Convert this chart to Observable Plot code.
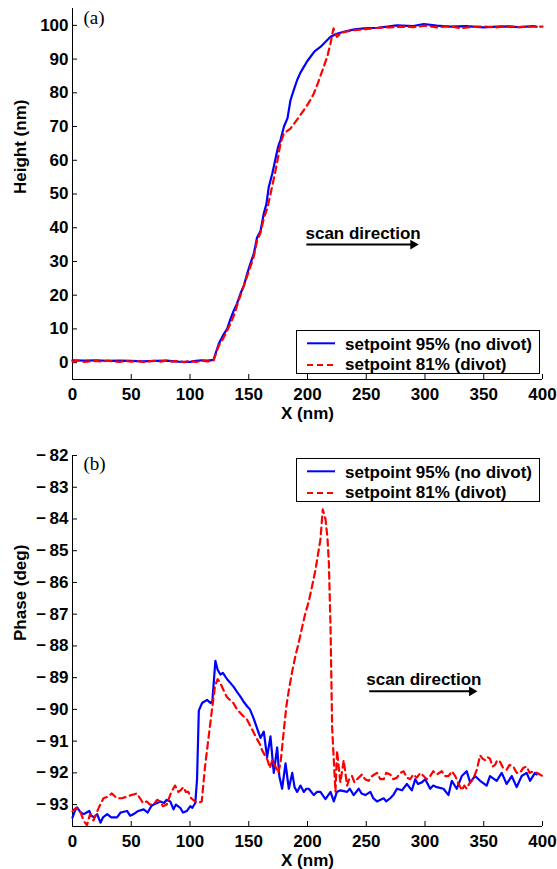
<!DOCTYPE html>
<html><head><meta charset="utf-8">
<script src="https://cdn.jsdelivr.net/npm/d3@7"></script>
<script src="https://cdn.jsdelivr.net/npm/@observablehq/plot@0.6"></script>
<style>
html,body{margin:0;padding:0;background:#fff;}
#wrap{position:relative;width:557px;height:869px;overflow:hidden;}
.panel{position:absolute;left:0;}
.panel svg{display:block;}
.legend{position:absolute;box-sizing:border-box;width:244px;height:44px;border:1px solid #000;background:#fff;
  font:bold 17px "Liberation Sans",Arial,sans-serif;color:#000;}
.legend svg{position:absolute;left:0;top:0;}
</style></head>
<body><div id="wrap">
<div id="top" class="panel" style="top:0"></div>
<div id="bot" class="panel" style="top:430px"></div>
</div>
<script>
// ---------- data ----------
const seriesNames = ["setpoint 95% (no divot)", "setpoint 81% (divot)"];
const seriesColors = ["#0000ff", "#ff0000"];

// (a) Height (nm) vs X (nm)
const heightNoDivot = [[0,0.7],[10,0.6],[20,0.7],[30,0.5],[40,0.6],[50,0.5],[60,0.4],[70,0.5],[80,0.6],[90,0.3],[100,0.2],[105,0.5],[110,0.7],[115,0.6],[120,0.8],
 [124.5,5.6],[128,8],[131.6,10],[134,12.5],[137.3,15.5],[140,17.5],[143,20.5],[146,23],[148.7,26.4],[151,29],[154.3,32.3],[157,37],[160,39],[162.8,44.2],[165,47],[167,52],[170,56],[172.5,60],[175,64],[177,66],[180,70],[183,72.5],[185.5,77.8],[188,80.5],[191.2,83.8],[194,86],[196.9,87.7],[200,89.5],[202.6,90.7],[206,92.3],[211,93.6],[215,95],[219.6,96.6],[225,97.5],[230.9,98.1],[240,98.8],[248,99.1],[260,99.3],[276,100],[290,99.8],[299,100.4],[310,99.9],[321,99.6],[335,99.8],[350,99.4],[365,99.7],[380,99.5],[392.6,99.8],[395,99.6]];
const heightDivot = [[0,0.3],[5,0.6],[10,0.2],[15,0.4],[20,0.5],[25,0.3],[30,0.6],[35,0.4],[40,0.2],[45,0.5],[50,0.3],[55,0.5],[60,0.2],[65,0.4],[70,0.5],[75,0.3],[80,0.6],[85,0.3],[90,0.5],[95,0.1],[100,0.6],[105,0.2],[110,0.5],[115,0.4],[120,0.6],
 [124.5,5],[128,7],[131.6,9.5],[135,12],[138,14.5],[141,18],[144,21],[148,25],[151,28],[154.3,31.5],[157,36],[160,38.5],[163,43],[166,46],[168.5,50],[171,54],[174,59],[177,65],[180,68],[185.5,69.4],[191,72],[196.9,74.9],[201,77],[205.4,79.8],[209,83],[213.8,87.7],[217,91],[219.6,94.7],[222.1,99.1],[223.5,98],[225,96.6],[228,97.5],[231,98],[240,98.6],[250,98.9],[260,99.3],[270,99.4],[280,99.6],[290,99.5],[300,99.9],[310,99.4],[320,99.8],[330,99.2],[340,99.5],[350,99.7],[360,99.4],[370,99.8],[380,99.5],[390,99.6],[400,99.6]];

// (b) Phase (deg) vs X (nm)
const phaseNoDivot = [[0,-93.41],[2,-93.2],[3.9,-93.09],[7,-93.25],[9.6,-93.3],[12,-93.25],[14.3,-93.2],[16,-93.35],[18.5,-93.4],[21,-93.3],[23.8,-93.57],[26,-93.4],[29.5,-93.3],[33,-93.4],[37.9,-93.4],[41,-93.25],[46.4,-93.2],[49,-93.35],[52,-93.3],[56,-93.2],[60.6,-93.15],[64,-93.25],[67,-93.05],[69,-93.0],[72,-92.95],[74.7,-92.9],[78,-92.95],[80,-92.85],[83.2,-92.9],[86,-93.15],[88,-93.0],[91.7,-93.1],[94,-93.25],[97.4,-93.2],[100.3,-93.05],[102,-93.1],[104.5,-92.95],[106,-92.2],[107.5,-90.04],[110.3,-89.8],[114.5,-89.7],[117.4,-89.8],[119,-89.75],[121.6,-88.47],[123.5,-88.75],[125.9,-88.9],[128,-88.85],[131.6,-89.05],[134,-89.15],[137.3,-89.3],[140,-89.45],[142.9,-89.6],[145.5,-89.75],[148.6,-89.9],[151,-90.0],[154.3,-90.3],[157.1,-90.6],[160,-90.9],[162.8,-90.7],[165.6,-91.5],[168.5,-90.85],[171.3,-92.0],[174.2,-91.2],[176,-92.1],[178.4,-92.5],[181.3,-91.7],[184.1,-92.5],[187,-92.0],[189,-92.45],[191.2,-92.6],[194,-92.4],[196.9,-92.6],[199,-92.5],[201.1,-92.5],[205.4,-92.7],[208,-92.6],[211,-92.6],[215.3,-92.83],[219.6,-92.6],[222.4,-92.9],[225,-92.6],[228,-92.55],[233.7,-92.6],[236,-92.5],[239.3,-92.7],[243.6,-92.5],[246,-92.65],[249.2,-92.7],[253.5,-92.6],[256,-92.8],[259.1,-92.9],[264.8,-92.8],[267,-92.9],[270.4,-92.8],[273,-92.7],[276.1,-92.5],[280.4,-92.55],[284.6,-92.35],[288.8,-92.55],[291.7,-92.2],[294,-92.35],[297.3,-92.3],[300.2,-92.2],[304.4,-92.5],[307,-92.4],[310.1,-92.45],[315.7,-92.5],[320,-92.7],[322.8,-92.25],[327,-92.5],[331.3,-92.1],[335.5,-91.95],[338.4,-92.3],[342.6,-92.1],[346.9,-92.25],[352.5,-92.4],[355.3,-92.1],[361,-92.25],[365.3,-92.0],[369.5,-92.35],[373.8,-92.1],[378,-92.45],[382.3,-92.1],[386.5,-92.0],[389.4,-92.25],[393.6,-92.0],[395,-92.05]];
const phaseDivot = [[0,-93.2],[3,-93.1],[6.5,-93.2],[9.4,-93.5],[12.3,-93.65],[15,-93.3],[17.9,-93.5],[20,-93.3],[23.6,-93.0],[26.4,-92.8],[30,-92.75],[33.5,-92.65],[37.7,-92.8],[42,-92.8],[46.2,-92.75],[50,-92.7],[54.7,-92.65],[57.5,-92.8],[60,-92.95],[63.2,-92.9],[66,-93.0],[68.9,-93.0],[72,-92.85],[74.5,-92.9],[77,-93.05],[80.2,-93.0],[83.1,-92.7],[85,-92.55],[87.3,-92.4],[90.1,-92.6],[92,-92.55],[94.4,-92.45],[96.5,-92.6],[98.6,-92.6],[101,-92.8],[104.3,-92.9],[107,-92.95],[110,-92.9],[112.8,-91.8],[115.6,-90.95],[118.4,-90.1],[121.3,-89.26],[123.5,-89.05],[125.5,-89.15],[128,-89.35],[131.2,-89.6],[134,-89.7],[136.9,-89.8],[140,-90.0],[142.5,-90.1],[145,-90.2],[148.2,-90.3],[151,-90.5],[153.8,-90.7],[156.5,-90.9],[159.5,-91.1],[161.5,-91.3],[163.8,-91.45],[166,-91.6],[168,-91.85],[170,-91.6],[172.7,-91.8],[175,-92.0],[177,-91.7],[179.9,-90.65],[182,-89.9],[184.1,-89.4],[187,-88.8],[189.8,-88.3],[192.5,-87.9],[195.5,-87.4],[198,-87.0],[201.1,-86.6],[204,-86.1],[206.8,-85.6],[209,-85.1],[211,-84.65],[213,-83.7],[215.3,-84.0],[217,-84.6],[218.2,-85.4],[219.6,-87.4],[221,-90.6],[222.4,-91.6],[223.8,-92.6],[225.2,-91.3],[226.5,-91.8],[228,-92.3],[230.8,-91.6],[233.7,-92.4],[235.5,-92.2],[237.9,-92.1],[240,-92.3],[242.2,-92.2],[246.4,-92.05],[249,-92.2],[252,-92.25],[255,-92.1],[259.1,-92.0],[262,-92.2],[264.8,-92.2],[267,-92.0],[270.4,-92.05],[273,-92.2],[276.1,-92.15],[279,-92.0],[281.8,-91.95],[284.5,-92.15],[287.4,-92.2],[290,-92.05],[293.1,-92.15],[296,-92.0],[298.8,-92.1],[301.5,-92.2],[304.4,-92.1],[307,-91.95],[310.1,-92.05],[314.3,-91.95],[317,-92.1],[320,-92.1],[323,-91.95],[325.7,-92.1],[328,-92.3],[331.3,-92.55],[333.5,-92.4],[335.5,-92.5],[337.5,-92.35],[339.8,-92.25],[342,-92.1],[344.1,-91.9],[346.9,-91.45],[349,-91.55],[351.1,-91.6],[353,-91.5],[355.3,-91.55],[357.5,-91.8],[359.6,-91.75],[361.5,-91.6],[363.9,-91.65],[366.5,-91.85],[369.5,-91.9],[372,-91.75],[375.2,-91.8],[378,-92.0],[380.9,-92.0],[383.5,-91.85],[386.5,-91.8],[389,-92.0],[392.2,-91.95],[395,-92.0],[397.8,-92.05],[400,-92.1]];

const xTicks = [0, 50, 100, 150, 200, 250, 300, 350, 400];
const heightTicks = [0, 10, 20, 30, 40, 50, 60, 70, 80, 90, 100];
const phaseTicks = [-93, -92, -91, -90, -89, -88, -87, -86, -85, -84, -83, -82];

// annotations
const arrowA = {x1: 199, x2: 294.5, y: 35.0, ty: 36.6, tx: 198.3, label: "scan direction"};
const arrowB = {x1: 252.5, x2: 344.5, y: -89.43, ty: -89.22, tx: 250, label: "scan direction"};
const panelTags = [{x: 9.4, y: 100.3, tag: "(a)"}, {x: 9.4, y: -82.45, tag: "(b)"}];

// ---------- rendering ----------
const FONT = '"Liberation Sans", Arial, Helvetica, sans-serif';
const W = 557;

function panel({height, marginTop, marginBottom, yDomain, yTicks, yFmt, yLabel, sNo, sDiv, arrow, tag}) {
  const headOff = 5.4 / ((W - 72 - 15) / 400);
  return Plot.plot({
    width: W, height, marginLeft: 72, marginRight: 15, marginTop, marginBottom,
    style: {fontFamily: FONT, fontSize: "17px", fontWeight: "bold", color: "#000", background: "#fff", overflow: "visible"},
    x: {domain: [0, 400]},
    y: {domain: yDomain},
    marks: [
      Plot.ruleX([0], {stroke: "#000", strokeWidth: 1}),
      Plot.ruleY([yDomain[0]], {stroke: "#000", strokeWidth: 1}),
      Plot.axisX({ticks: xTicks, tickSize: -5, tickPadding: 13, label: null, fontSize: 17, fontWeight: "bold"}),
      Plot.axisY({ticks: yTicks, tickSize: -5, tickPadding: 9, tickFormat: yFmt, label: null, fontSize: 17, fontWeight: "bold"}),
      Plot.text(["X (nm)"], {frameAnchor: "bottom", dy: 34, lineAnchor: "middle", fontSize: 17, fontWeight: "bold"}),
      Plot.text([yLabel], {frameAnchor: "left", dx: -52, rotate: -90, lineAnchor: "middle", fontSize: 17, fontWeight: "bold"}),
      Plot.line(sNo, {x: d => d[0], y: d => d[1], stroke: seriesColors[0], strokeWidth: 2.2, curve: "linear"}),
      Plot.line(sDiv, {x: d => d[0], y: d => d[1], stroke: seriesColors[1], strokeWidth: 2.2, strokeDasharray: "6.5,4.5", curve: "linear"}),
      Plot.text([arrow], {x: "tx", y: "ty", text: "label", textAnchor: "start", lineAnchor: "bottom", fontSize: 17, fontWeight: "bold"}),
      Plot.link([arrow], {x1: "x1", x2: d => d.x2 - headOff, y1: "y", y2: "y", stroke: "#000", strokeWidth: 2}),
      Plot.dot([arrow], {x: d => d.x2 - headOff, y: "y", symbol: "triangle", r: 3.6, rotate: 90, fill: "#000", stroke: "none"}),
      Plot.text([tag], {x: "x", y: "y", text: "tag", textAnchor: "start", lineAnchor: "bottom", fontFamily: '"Liberation Serif", "Times New Roman", serif', fontWeight: "normal", fontSize: 19})
    ]
  });
}

const fmtMinus = d => (d < 0 ? "\u2212\u2009" : "") + Math.abs(d);

document.getElementById("top").append(panel({
  height: 430, marginTop: 8, marginBottom: 51, yDomain: [-5, 105], yTicks: heightTicks, yFmt: d => String(d),
  yLabel: "Height (nm)", sNo: heightNoDivot, sDiv: heightDivot, arrow: arrowA, tag: panelTags[0]
}));
document.getElementById("bot").append(panel({
  height: 439, marginTop: 25, marginBottom: 43, yDomain: [-93.69, -82], yTicks: phaseTicks, yFmt: fmtMinus,
  yLabel: "Phase (deg)", sNo: phaseNoDivot, sDiv: phaseDivot, arrow: arrowB, tag: panelTags[1]
}));

// legends
function legend(left, top) {
  const div = document.createElement("div");
  div.className = "legend";
  div.style.left = left + "px";
  div.style.top = top + "px";
  const svg = d3.create("svg").attr("width", 242).attr("height", 42);
  seriesNames.forEach((name, i) => {
    const ly = i === 0 ? 12.3 : 34;
    const ty = i === 0 ? 19 : 39;
    svg.append("line").attr("x1", 10).attr("x2", 38).attr("y1", ly).attr("y2", ly)
      .attr("stroke", seriesColors[i]).attr("stroke-width", 2).attr("stroke-dasharray", i ? "6,4" : null);
    svg.append("text").attr("x", 48).attr("y", ty).text(name)
      .attr("font-family", FONT).attr("font-weight", "bold").attr("font-size", 17);
  });
  div.append(svg.node());
  document.getElementById("wrap").append(div);
}
legend(296, 330);
legend(296, 458);
</script>
</body></html>
